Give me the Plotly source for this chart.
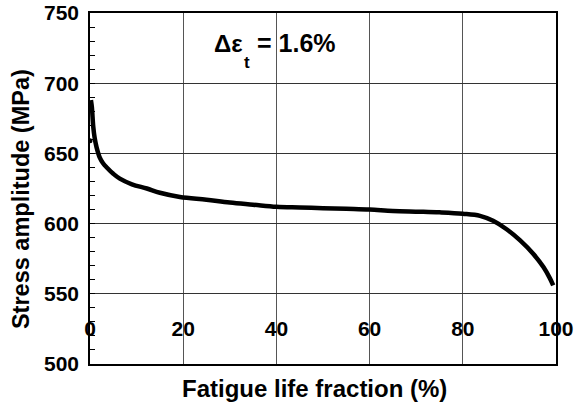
import plotly.graph_objects as go

# Fatigue life fraction (%) and stress amplitude (MPa)
life_fraction = [0.2, 0.4, 0.7, 1.0, 1.4, 2.1, 2.8, 3.6, 5.0, 6.4, 9.0, 12.2, 15.0, 19.3,
                 25.0, 30.0, 35.0, 40.0, 45.0, 50.0, 55.0, 60.0, 65.0, 70.8, 75.0,
                 80.0, 83.7, 86.5, 89.4, 92.3, 95.1, 97.3, 98.7, 99.4]
stress_amp = [688, 683, 669, 661, 654.5, 647, 643, 640, 635.5, 632, 628, 625, 622, 619,
              617, 615, 613.5, 612, 611.5, 611, 610.5, 610, 609, 608.5, 608,
              607, 605.5, 602, 596, 588, 578.5, 569, 561, 556]
first_x = [0.0]
first_y = [659]

x_ticks = [0, 20, 40, 60, 80, 100]
y_ticks = [500, 550, 600, 650, 700, 750]

FONT = "Liberation Sans, Arial, sans-serif"

fig = go.Figure()
fig.add_trace(go.Scatter(x=life_fraction, y=stress_amp, mode="lines",
                         line=dict(color="black", width=4.5, shape="spline"),
                         showlegend=False))
fig.add_trace(go.Scatter(x=first_x, y=first_y, mode="markers",
                         marker=dict(color="black", size=5), showlegend=False))

fig.update_layout(
    width=580, height=405,
    margin=dict(l=90, r=24, t=13, b=41, autoexpand=False),
    paper_bgcolor="white", plot_bgcolor="white",
    font=dict(family=FONT, color="black"),
    xaxis=dict(
        range=[0, 100], tickvals=x_ticks, ticktext=[str(v) for v in x_ticks],
        showgrid=True, gridcolor="#555", gridwidth=1,
        showline=True, linecolor="black", linewidth=1.5, mirror=True,
        ticks="", ticklabelposition="inside", ticklabelstandoff=25,
        ticklabeloverflow="allow", automargin=False,
        tickfont=dict(size=21, family=FONT, color="black", weight="bold"),
        zeroline=False,
    ),
    yaxis=dict(
        range=[500, 750], tickvals=y_ticks,
        showgrid=True, gridcolor="#333", gridwidth=1,
        showline=True, linecolor="black", linewidth=1.5, mirror=True,
        ticks="inside", ticklen=5, tickcolor="black", ticklabelstandoff=5,
        minor=dict(dtick=10, ticks="inside", ticklen=5, tickcolor="black", showgrid=False),
        tickfont=dict(size=21, family=FONT, color="black", weight="bold"),
        automargin=False, zeroline=False,
    ),
    annotations=[
        dict(x=26.2, y=728.6, xref="x", yref="y", xanchor="left", yanchor="middle",
             text="<b>Δε</b>", showarrow=False,
             font=dict(size=24, family=FONT, color="black")),
        dict(x=33.7, y=715, xref="x", yref="y", xanchor="center", yanchor="middle",
             text="<b>t</b>", showarrow=False,
             font=dict(size=17, family=FONT, color="black")),
        dict(x=35.4, y=728.6, xref="x", yref="y", xanchor="left", yanchor="middle",
             text="<b>= 1.6%</b>", showarrow=False,
             font=dict(size=25, family=FONT, color="black")),
        dict(x=0.4818, y=-0.0712, xref="paper", yref="paper", xanchor="center", yanchor="middle",
             text="<b>Fatigue life fraction (%)</b>", showarrow=False,
             font=dict(size=24, family=FONT, color="black")),
        dict(x=-0.148, y=0.47, xref="paper", yref="paper", xanchor="center", yanchor="middle",
             text="<b>Stress amplitude (MPa)</b>", showarrow=False, textangle=-90,
             font=dict(size=23.5, family=FONT, color="black")),
    ],
)

fig.write_html("out.html")
